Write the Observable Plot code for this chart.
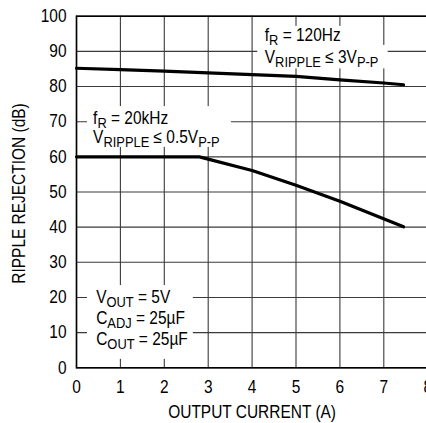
<!DOCTYPE html>
<html>
<head>
<meta charset="utf-8">
<script src="https://cdn.jsdelivr.net/npm/d3@7"></script>
<script src="https://cdn.jsdelivr.net/npm/@observablehq/plot@0.6"></script>
<style>
  html, body { margin: 0; padding: 0; background: white; overflow: hidden; }
  svg { overflow: visible; }
</style>
</head>
<body>
<div id="chart"></div>
<script>
// Data
const currentUpper = [0, 1, 2, 3, 4, 5, 6, 7, 7.45];
const rejectionUpper = [85.2, 84.8, 84.4, 83.9, 83.4, 82.9, 81.9, 81.0, 80.5];
const currentLower = [0, 1, 2, 2.8, 4, 5, 6, 7.45];
const rejectionLower = [60, 60, 60, 60, 56.1, 51.9, 47.4, 40.1];
const xTicks = [0, 1, 2, 3, 4, 5, 6, 7, 8];
const yTicks = [0, 10, 20, 30, 40, 50, 60, 70, 80, 90, 100];
const xTitle = "OUTPUT CURRENT (A)";
const yTitle = "RIPPLE REJECTION (dB)";

// annotation blocks: each line is a list of [text, isSubscript]
const labelUpper = [
  [["f", 0], ["R", 1], [" = 120Hz", 0]],
  [["V", 0], ["RIPPLE", 1], [" \u2264 3V", 0], ["P-P", 1]]
];
const labelMiddle = [
  [["f", 0], ["R", 1], [" = 20kHz", 0]],
  [["V", 0], ["RIPPLE", 1], [" \u2264 0.5V", 0], ["P-P", 1]]
];
const labelLower = [
  [["V", 0], ["OUT", 1], [" = 5V", 0]],
  [["C", 0], ["ADJ", 1], [" = 25\u00B5F", 0]],
  [["C", 0], ["OUT", 1], [" = 25\u00B5F", 0]]
];
// anchor (data units) of each block's first baseline, and line step in data units
const labelAnchors = [
  {lines: labelUpper, x: 4.3, y: 92.9, step: 6.4},
  {lines: labelMiddle, x: 0.39, y: 69.2, step: 5.5},
  {lines: labelLower, x: 0.46, y: 18.4, step: 6.05}
];
// white boxes behind annotations (data units)
const boxes = [
  {x1: 4.21, x2: 6.2, y1: 91.6, y2: 97.1},
  {x1: 4.13, x2: 7.1, y1: 85.0, y2: 91.7},
  {x1: 0.25, x2: 3.53, y1: 62.7, y2: 74.3},
  {x1: 0.25, x2: 2.66, y1: 2.4, y2: 23.4}
];

const upper = currentUpper.map((x, i) => ({x, y: rejectionUpper[i]}));
const lower = currentLower.map((x, i) => ({x, y: rejectionLower[i]}));

const FONT = "'Liberation Sans', Arial, sans-serif";
const SQUEEZE = 0.86; // condensed look of the reference lettering

const chart = Plot.plot({
  width: 426,
  height: 423,
  marginLeft: 76,
  marginTop: 15.7,
  marginBottom: 55.7,
  marginRight: -1.2,
  style: {fontFamily: FONT, fontSize: "18px", color: "black", background: "white", overflow: "visible"},
  x: {domain: [0, 8], ticks: xTicks},
  y: {domain: [0, 100], ticks: yTicks},
  marks: [
    Plot.gridX(xTicks, {stroke: "#3a3a3a", strokeOpacity: 1, strokeWidth: 1.1}),
    Plot.gridY(yTicks, {stroke: "#3a3a3a", strokeOpacity: 1, strokeWidth: 1.1}),
    Plot.rect(boxes, {x1: "x1", x2: "x2", y1: "y1", y2: "y2", fill: "white"}),
    Plot.frame({stroke: "black", strokeWidth: 1.6}),
    Plot.axisX(xTicks, {tickSize: 0, tickPadding: 12, label: null, fontSize: 18}),
    Plot.axisY(yTicks, {tickSize: 0, tickPadding: 10, label: null, fontSize: 18}),
    Plot.text([xTitle], {frameAnchor: "bottom", lineAnchor: "middle", textAnchor: "middle", dy: 44.5, text: d => d, fontSize: 18, fill: "black"}),
    Plot.text([yTitle], {frameAnchor: "left", lineAnchor: "middle", textAnchor: "middle", dx: -57, dy: 1.5, rotate: -90, text: d => d, fontSize: 18, fill: "black"}),
    Plot.line(upper, {x: "x", y: "y", stroke: "black", strokeWidth: 3.2}),
    Plot.line(lower, {x: "x", y: "y", stroke: "black", strokeWidth: 3.2})
  ]
});

document.getElementById("chart").appendChild(chart);

// condense every text Plot drew
d3.select(chart).selectAll("text").each(function() {
  const tr = this.getAttribute("transform") || "";
  this.setAttribute("transform", (tr + ` scale(${SQUEEZE},1)`).trim());
});

// annotations with subscripts, positioned through Plot's scales
const sx = chart.scale("x"), sy = chart.scale("y");
const svg = d3.select(chart);
for (const a of labelAnchors) {
  a.lines.forEach((line, i) => {
    const t = svg.append("text")
      .attr("transform", `translate(${sx.apply(a.x)},${sy.apply(a.y - i * a.step)}) scale(${SQUEEZE},1)`)
      .attr("text-anchor", "start")
      .attr("font-family", FONT)
      .attr("font-size", 18)
      .attr("fill", "black");
    let shifted = false;
    for (const [txt, sub] of line) {
      const ts = t.append("tspan").text(txt);
      if (sub && !shifted) { ts.attr("dy", 4).attr("font-size", 15); shifted = true; }
      else if (sub) { ts.attr("font-size", 15); }
      else if (!sub && shifted) { ts.attr("dy", -4); shifted = false; }
    }
  });
}
</script>
</body>
</html>
